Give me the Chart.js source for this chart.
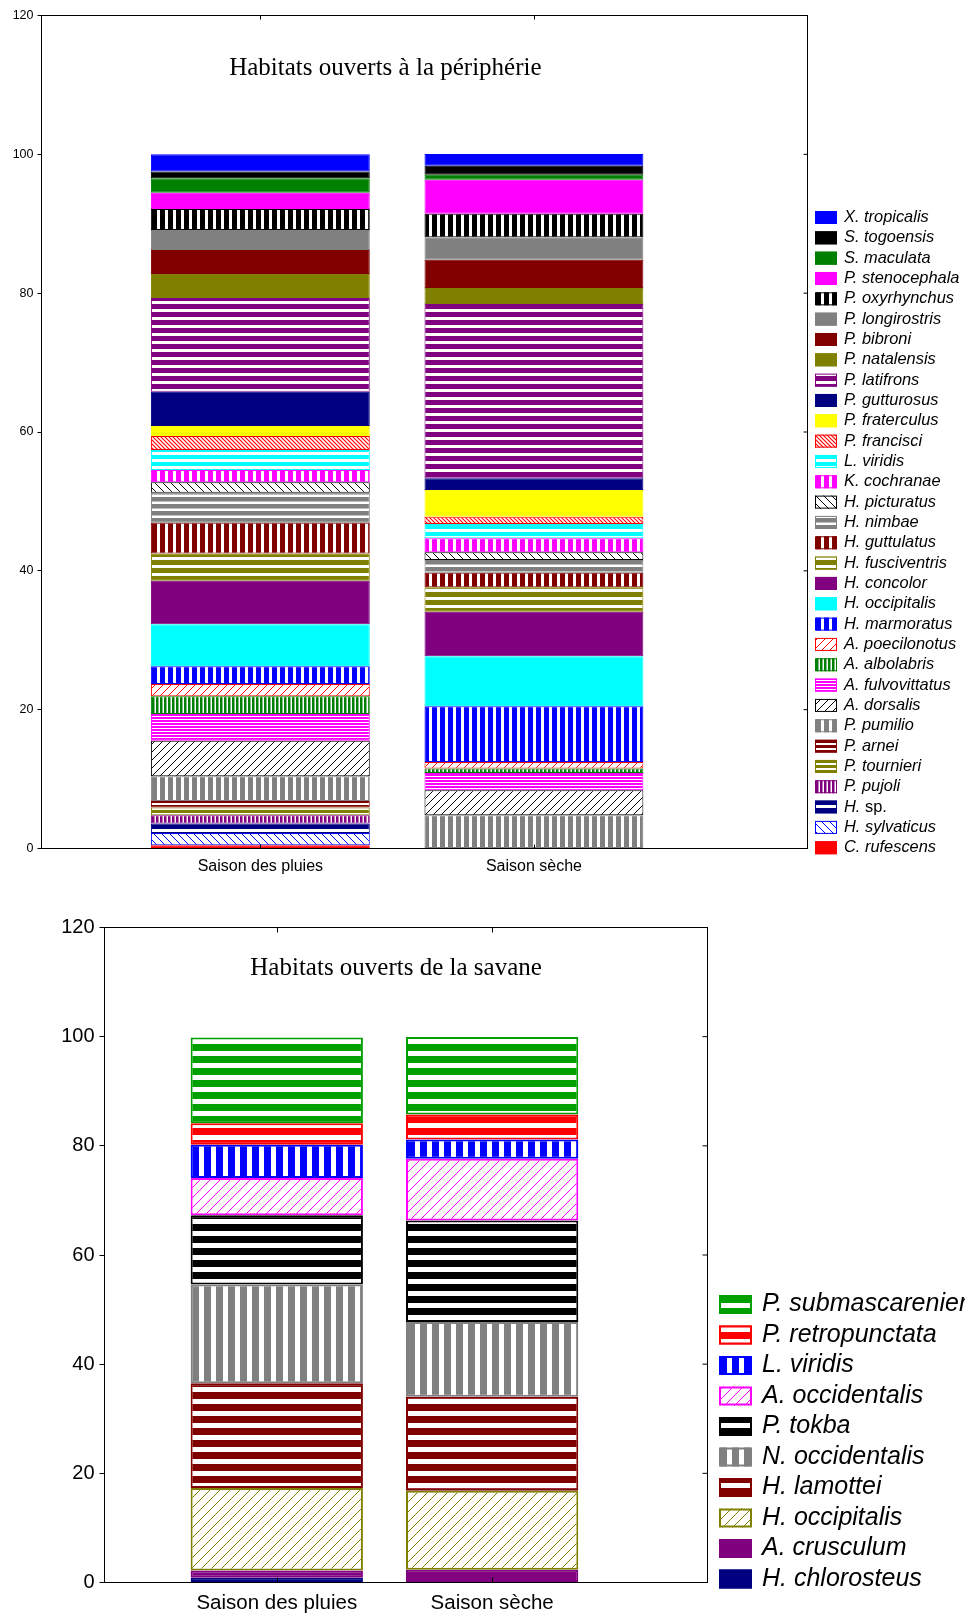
<!DOCTYPE html>
<html lang="fr">
<head>
<meta charset="utf-8">
<title>Habitats ouverts</title>
<script src="https://cdn.jsdelivr.net/npm/chart.js@4.4.1/dist/chart.umd.min.js"></script>
<style>
  body { margin: 0; background: #fff; }
  #wrap { position: relative; width: 965px; height: 1615px; overflow: hidden; }
  canvas { position: absolute; left: 0; }
</style>
</head>
<body>
<div id="wrap">
  <canvas id="chartPeriph" width="965" height="900" style="top:0"></canvas>
  <canvas id="chartSavane" width="965" height="715" style="top:900px"></canvas>
</div>
<script>
var categories = ['Saison des pluies', 'Saison sèche'];
var yTicks = [0, 20, 40, 60, 80, 100, 120];

// Habitats ouverts à la périphérie (du bas vers le haut de la barre)
var periphSpecies = ['C. rufescens', 'H. sylvaticus', 'H. sp.', 'P. pujoli', 'P. tournieri', 'P. arnei',
    'P. pumilio', 'A. dorsalis', 'A. fulvovittatus', 'A. albolabris', 'A. poecilonotus', 'H. marmoratus',
    'H. occipitalis', 'H. concolor', 'H. fusciventris', 'H. guttulatus', 'H. nimbae', 'H. picturatus',
    'K. cochranae', 'L. viridis', 'P. francisci', 'P. fraterculus', 'P. gutturosus', 'P. latifrons',
    'P. natalensis', 'P. bibroni', 'P. longirostris', 'P. oxyrhynchus', 'P. stenocephala', 'S. maculata',
    'S. togoensis', 'X. tropicalis'];
var periphPluies = [0.48, 1.77, 1.35, 1.2, 1.11, 0.95, 3.56, 5.09, 3.85, 2.59, 1.73, 2.59, 6.05, 6.24, 3.95, 4.41,
    4.32, 1.51, 1.77, 2.88, 2.02, 1.44, 4.94, 13.5, 3.46, 3.46, 2.88, 3.03, 2.35, 2.08, 0.95, 2.51];
var periphSeche = [0, 0, 0, 0, 0, 0, 4.8, 3.6, 2.49, 0.63, 0.95, 8.03, 7.21, 6.39, 3.52, 2.1,
    1.83, 1.11, 2.02, 2.06, 1.05, 3.85, 1.69, 25.12, 2.31, 4.04, 3.27, 3.36, 4.9, 0.72, 1.3, 1.69];

// Habitats ouverts de la savane (du bas vers le haut)
var savaneSpecies = ['H. chlorosteus', 'A. crusculum', 'H. occipitalis', 'H. lamottei', 'N. occidentalis',
    'P. tokba', 'A. occidentalis', 'L. viridis', 'P. retropunctata', 'P. submascareniensis'];
var savanePluies = [0.86, 1.34, 15.1, 19.2, 18.1, 12.7, 6.8, 6.1, 3.96, 15.7];
var savaneSeche = [0, 2.33, 14.5, 17.2, 13.7, 18.6, 11.3, 3.55, 4.58, 14.2];

// motif, couleur, période, largeur (blanc ou trait)
var periphStyles = [
    ['solid', '#ff0000'], ['b', '#0000ff', 8, 1], ['h', '#000080', 8, 3], ['v', '#800080', 4, 1.5],
    ['h', '#808000', 5, 2], ['h', '#800000', 5, 2], ['v', '#808080', 8, 3], ['f', '#000000', 8, 1],
    ['h', '#ff00ff', 3, 1], ['v', '#008000', 4, 1.5], ['f', '#ff0000', 8, 1], ['v', '#0000ff', 8, 3],
    ['solid', '#00ffff'], ['solid', '#800080'], ['h', '#808000', 8, 3], ['v', '#800000', 8, 3],
    ['h', '#808080', 7, 2.5], ['b', '#000000', 8, 1], ['v', '#ff00ff', 8, 3], ['h', '#00ffff', 7, 3],
    ['b', '#ff0000', 4, 1.2], ['solid', '#ffff00'], ['solid', '#000080'], ['h', '#800080', 8, 3],
    ['solid', '#808000'], ['solid', '#800000'], ['solid', '#808080'], ['v', '#000000', 8, 3],
    ['solid', '#ff00ff'], ['solid', '#008000'], ['solid', '#000000'], ['solid', '#0000ff']
];
var savaneStyles = [
    ['solid', '#000080'], ['solid', '#800080'], ['f', '#808000', 10, 1], ['h', '#800000', 12, 5],
    ['v', '#808080', 12, 5], ['h', '#000000', 12, 5], ['f', '#ff00ff', 10, 1], ['v', '#0000ff', 12, 5],
    ['h', '#ff0000', 12, 5], ['h', '#00a000', 12, 5]
];

function makeFill(style) {
    var kind = style[0], color = style[1], p = style[2], w = style[3];
    if (kind === 'solid') return color;
    var c = document.createElement('canvas');
    c.width = p;
    c.height = p;
    var g = c.getContext('2d');
    g.fillStyle = '#ffffff';
    g.fillRect(0, 0, p, p);
    g.fillStyle = color;
    g.strokeStyle = color;
    if (kind === 'v') {
        g.fillRect(0, 0, p - w, p);
    } else if (kind === 'h') {
        g.fillRect(0, 0, p, p - w);
    } else {
        g.lineWidth = w;
        g.beginPath();
        if (kind === 'f') { // hachures /
            g.moveTo(0, p); g.lineTo(p, 0);
            g.moveTo(-2, 2); g.lineTo(2, -2);
            g.moveTo(p - 2, p + 2); g.lineTo(p + 2, p - 2);
        } else { // hachures \
            g.moveTo(0, 0); g.lineTo(p, p);
            g.moveTo(p - 2, -2); g.lineTo(p + 2, 2);
            g.moveTo(-2, p - 2); g.lineTo(2, p + 2);
        }
        g.stroke();
    }
    return g.createPattern(c, 'repeat');
}

// cadre, graduations intérieures, titre et légende
var framePlugin = {
    id: 'frame',
    afterDraw: function (chart, args, o) {
        var ctx = chart.ctx, a = chart.chartArea;
        var xs = chart.scales.x, ys = chart.scales.y;
        ctx.save();
        ctx.strokeStyle = '#000';
        ctx.lineWidth = 1;
        ctx.strokeRect(a.left, a.top, a.right - a.left, a.bottom - a.top);

        ctx.beginPath();
        xs.ticks.forEach(function (t) {
            var px = Math.round(xs.getPixelForValue(t.value)) + 0.5;
            ctx.moveTo(px, a.top); ctx.lineTo(px, a.top + o.tick);
            ctx.moveTo(px, a.bottom); ctx.lineTo(px, a.bottom - o.tick);
        });
        ys.ticks.forEach(function (t) {
            var py = ys.getPixelForValue(t.value);
            ctx.moveTo(a.right, py); ctx.lineTo(a.right - o.tick, py);
        });
        ctx.stroke();

        ctx.fillStyle = '#000';
        ctx.font = o.titleFont;
        ctx.textAlign = 'center';
        ctx.textBaseline = 'alphabetic';
        ctx.fillText(o.title, xs.getPixelForValue(o.titleAt[0]), ys.getPixelForValue(o.titleAt[1]));

        var L = o.legend;
        var items = chart.data.datasets.slice().reverse();
        items.forEach(function (ds, i) {
            var y = L.top + i * L.step;
            ctx.fillStyle = ds.backgroundColor;
            ctx.fillRect(L.x, y, L.w, L.h);
            ctx.strokeStyle = ds.borderColor;
            ctx.lineWidth = L.line;
            ctx.strokeRect(L.x + L.line / 2, y + L.line / 2, L.w - L.line, L.h - L.line);

            ctx.fillStyle = '#000';
            ctx.textAlign = 'left';
            ctx.textBaseline = 'middle';
            var label = ds.label, tx = L.textX;
            if (/ sp\.$/.test(label)) {
                // le genre en italique, "sp." en romain
                var genus = label.replace(/ sp\.$/, '');
                ctx.font = 'italic ' + L.font;
                ctx.fillText(genus, tx, y + L.h / 2);
                tx += ctx.measureText(genus + ' ').width;
                ctx.font = L.font;
                ctx.fillText('sp.', tx, y + L.h / 2);
            } else {
                ctx.font = 'italic ' + L.font;
                ctx.fillText(label, tx, y + L.h / 2);
            }
        });
        ctx.restore();
    }
};

function buildChart(canvasId, species, pluies, seche, styles, o) {
    var datasets = species.map(function (name, i) {
        var values = [pluies[i], seche[i]];
        return {
            label: name,
            data: categories.map(function (c, k) {
                return { x: k + 1, y: values[k] === 0 ? null : values[k] };
            }),
            backgroundColor: makeFill(styles[i]),
            borderColor: styles[i][1],
            borderWidth: o.border,
            borderSkipped: false,
            barPercentage: 0.8,
            categoryPercentage: 1
        };
    });

    var family = '"Liberation Sans", Arial, sans-serif';
    return new Chart(document.getElementById(canvasId), {
        type: 'bar',
        data: { datasets: datasets },
        plugins: [framePlugin],
        options: {
            responsive: false,
            animation: false,
            layout: { padding: o.padding },
            plugins: {
                legend: { display: false },
                tooltip: { enabled: false },
                frame: o.frame
            },
            scales: {
                x: {
                    type: 'linear',
                    stacked: true,
                    offset: false,
                    min: 0.2,
                    max: 3,
                    afterBuildTicks: function (scale) {
                        scale.ticks = categories.map(function (c, k) { return { value: k + 1 }; });
                    },
                    afterFit: function (scale) { scale.height = o.xHeight; },
                    grid: { display: false, drawTicks: false },
                    border: { display: true, color: '#000', width: 1 },
                    ticks: {
                        callback: function (v) { return categories[v - 1]; },
                        color: '#000',
                        font: { family: family, size: o.xFont },
                        padding: o.xPad,
                        maxRotation: 0,
                        autoSkip: false
                    }
                },
                y: {
                    stacked: true,
                    min: 0,
                    max: 120,
                    afterBuildTicks: function (scale) {
                        scale.ticks = yTicks.map(function (v) { return { value: v }; });
                    },
                    afterFit: function (scale) { scale.width = o.yWidth; },
                    grid: { drawOnChartArea: false, drawTicks: true, tickLength: o.tickLen, color: '#000' },
                    border: { display: true, color: '#000', width: 1 },
                    ticks: {
                        color: '#000',
                        font: { family: family, size: o.yFont },
                        padding: o.yPad
                    }
                }
            }
        }
    });
}

buildChart('chartPeriph', periphSpecies, periphPluies, periphSeche, periphStyles, {
    border: 1,
    padding: { top: 15.5, right: 157.5, left: 0, bottom: 0 },
    xHeight: 51.5, yWidth: 41.5,
    xFont: 16, yFont: 12.5, xPad: 8, yPad: 4, tickLen: 4,
    frame: {
        tick: 4,
        title: 'Habitats ouverts à la périphérie',
        titleFont: '25px "Liberation Serif", "Times New Roman", serif',
        titleAt: [1.457, 111.46],
        legend: { x: 815, top: 211, w: 22, h: 13, step: 20.33, textX: 844, line: 1,
            font: '16.4px "Liberation Sans", Arial, sans-serif' }
    }
});

buildChart('chartSavane', savaneSpecies, savanePluies, savaneSeche, savaneStyles, {
    border: 2,
    padding: { top: 27.5, right: 257.5, left: 0, bottom: 0 },
    xHeight: 32.5, yWidth: 104.5,
    xFont: 20.5, yFont: 20, xPad: 9, yPad: 5, tickLen: 5,
    frame: {
        tick: 5,
        title: 'Habitats ouverts de la savane',
        titleFont: '25px "Liberation Serif", "Times New Roman", serif',
        titleAt: [1.554, 111.36],
        legend: { x: 719, top: 395, w: 33, h: 19, step: 30.5, textX: 762, line: 2,
            font: '25px "Liberation Sans", Arial, sans-serif' }
    }
});
</script>
</body>
</html>
